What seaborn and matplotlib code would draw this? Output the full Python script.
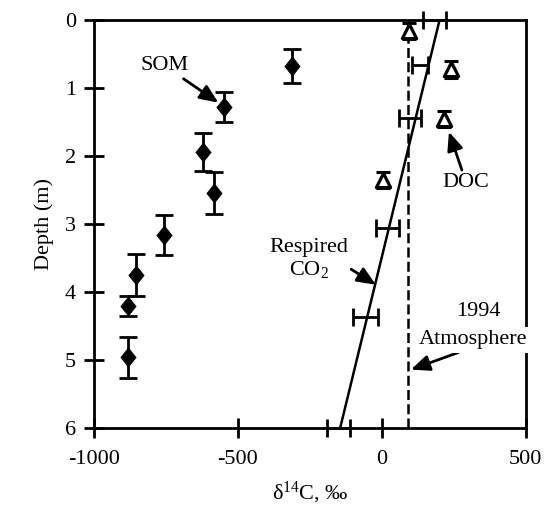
import matplotlib
matplotlib.use("Agg")
import matplotlib.pyplot as plt
import seaborn as sns
import pandas as pd

# Soil organic matter (SOM) radiocarbon profile
som_d14c = [-311, -550, -622, -585, -757, -855, -881, -881]
som_depth = [0.67, 1.27, 1.94, 2.54, 3.16, 3.75, 4.20, 4.96]
som_err = [0.25, 0.22, 0.28, 0.31, 0.29, 0.31, 0.15, 0.30]

# Dissolved organic carbon (DOC)
doc_d14c = [95, 240, 216, 5]
doc_depth = [0.16, 0.72, 1.45, 2.35]
doc_err = [0.12, 0.12, 0.12, 0.12]

# Respired CO2 (horizontal error bars only)
co2_d14c = [183, 132, 98, 19, -56, -150]
co2_depth = [0.0, 0.66, 1.43, 3.05, 4.36, 6.0]
co2_err = [41, 28, 39, 40, 43, 40]

# Linear trend of respired CO2 with depth
trend_d14c = [200, -145]
trend_depth = [0.0, 6.0]

# 1994 atmospheric value
atm_1994 = 92

x_ticks = [-1000, -500, 0, 500]
y_ticks = [0, 1, 2, 3, 4, 5, 6]

sns.set_theme(style="white")
plt.rcParams["font.family"] = ["Liberation Serif", "DejaVu Serif"]
plt.rcParams["mathtext.fontset"] = "custom"
plt.rcParams["mathtext.rm"] = "Liberation Serif"
plt.rcParams["mathtext.it"] = "Liberation Serif:italic"
plt.rcParams["text.color"] = "black"
plt.rcParams["axes.labelcolor"] = "black"
plt.rcParams["xtick.color"] = "black"
plt.rcParams["ytick.color"] = "black"

fig = plt.figure(figsize=(5.5, 5.12), dpi=100)
ax = fig.add_axes([0.171, 0.164, 0.785, 0.796])

som = pd.DataFrame({"d14c": som_d14c, "depth": som_depth})
doc = pd.DataFrame({"d14c": doc_d14c, "depth": doc_depth})
trend = pd.DataFrame({"d14c": trend_d14c, "depth": trend_depth})

# trend line and atmosphere reference
sns.lineplot(data=trend, x="d14c", y="depth", sort=False, orient="y",
             color="black", lw=1.8, ax=ax, zorder=2)
ax.axvline(atm_1994, color="black", lw=1.8, dashes=(4, 1.7), zorder=2)

# SOM: filled diamonds with vertical error bars
ax.errorbar(som_d14c, som_depth, yerr=som_err, fmt="none", ecolor="black",
            elinewidth=2, capsize=6.8, capthick=2, zorder=3)
diamond = [(0, 1), (0.8, 0), (0, -1), (-0.8, 0), (0, 1)]
sns.scatterplot(data=som, x="d14c", y="depth", marker=diamond, s=190,
                color="black", edgecolor="black", linewidth=0.5, ax=ax, zorder=4)

# DOC: open triangles with short vertical error bars
ax.errorbar(doc_d14c, doc_depth, yerr=doc_err, fmt="none", ecolor="black",
            elinewidth=2, capsize=4.8, capthick=2.2, zorder=3, clip_on=False)
sns.scatterplot(data=doc, x="d14c", y="depth", marker="^", s=105,
                facecolor="white", edgecolor="black", linewidth=2.3, ax=ax, zorder=4)

# Respired CO2 error bars
ax.errorbar(co2_d14c, co2_depth, xerr=co2_err, fmt="none", ecolor="black",
            elinewidth=2, capsize=6.8, capthick=2, zorder=3, clip_on=False)

ax.set_xlim(-1000, 500)
ax.set_ylim(6, 0)
ax.set_xticks(x_ticks)
ax.set_yticks(y_ticks)
ax.set_xticklabels([str(v) for v in x_ticks])
ax.set_yticklabels([str(v) for v in y_ticks])

for side in ["left", "right", "top", "bottom"]:
    ax.spines[side].set_visible(True)
    ax.spines[side].set_color("black")
    ax.spines[side].set_linewidth(2)

ax.tick_params(axis="both", which="both", direction="inout", length=14,
               width=2, color="black", labelsize=16, labelcolor="black")
ax.tick_params(axis="x", pad=9, bottom=True, top=False)
ax.tick_params(axis="y", pad=6, left=True, right=False)

ax.set_ylabel("Depth (m)", fontsize=16, color="black", labelpad=8)
ax.set_xlabel("δ$^{14}$C, ‰", fontsize=16, color="black", labelpad=8)

arrow = dict(arrowstyle="-|>,head_length=0.7,head_width=0.3",
             color="black", lw=2, shrinkA=0, shrinkB=0)

ax.annotate("SOM", xy=(-568, 1.21), xytext=(-754, 0.67), fontsize=16,
            ha="center", va="center", color="black", arrowprops=arrow, zorder=5)
ax.annotate("DOC", xy=(233, 1.64), xytext=(293, 2.39), fontsize=16,
            ha="center", va="center", color="black", arrowprops=arrow, zorder=5)
ax.annotate("Respired\nCO$_2$", xy=(-21, 3.89), xytext=(-255, 3.51), fontsize=16,
            ha="center", va="center", linespacing=1.1, color="black", zorder=5,
            arrowprops=dict(arrow, relpos=(1.0, 0.3)))
ax.text(334, 4.28, "1994", fontsize=16, ha="center", va="center",
        color="black", zorder=5)
ax.annotate("Atmosphere", xy=(101, 5.14), xytext=(316, 4.70), fontsize=16,
            ha="center", va="center", color="black", zorder=6,
            annotation_clip=False,
            bbox=dict(boxstyle="square,pad=0.15", fc="white", ec="none"),
            arrowprops=dict(arrow, relpos=(0.45, 0.0)))

fig.savefig("out.png", dpi=100)
